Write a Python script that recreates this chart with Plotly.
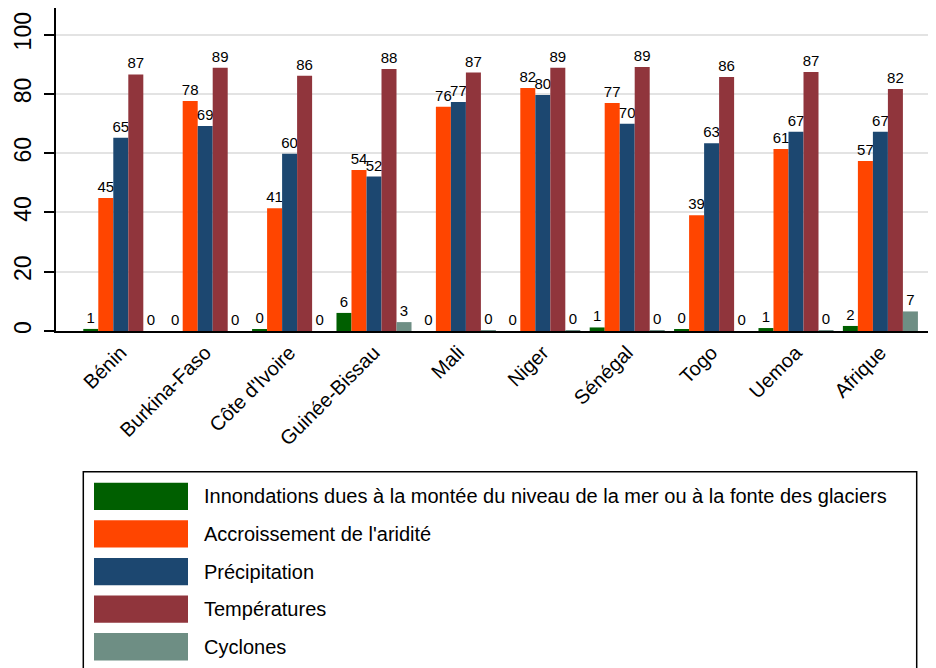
import plotly.graph_objects as go

countries = ["Bénin", "Burkina-Faso", "Côte d'Ivoire", "Guinée-Bissau", "Mali",
             "Niger", "Sénégal", "Togo", "Uemoa", "Afrique"]

inondations = [0.7, 0.0, 0.4, 6.1, 0.0, 0.0, 1.2, 0.4, 1.0, 1.7]
aridite = [44.9, 77.6, 41.4, 54.3, 75.7, 82.0, 76.9, 39.1, 61.4, 57.4]
precipitation = [65.2, 69.2, 59.8, 52.1, 77.3, 79.6, 69.9, 63.4, 67.2, 67.2]
temperatures = [86.6, 88.8, 86.1, 88.4, 87.2, 88.8, 89.1, 85.7, 87.4, 81.7]
cyclones = [0.0, 0.0, 0.0, 3.0, 0.3, 0.1, 0.3, 0.0, 0.2, 6.6]

series_names = [
    "Innondations dues à la montée du niveau de la mer ou à la fonte des glaciers",
    "Accroissement de l'aridité",
    "Précipitation",
    "Températures",
    "Cyclones",
]
series_values = [inondations, aridite, precipitation, temperatures, cyclones]
series_colors = ["#005F00", "#FF4500", "#1C4770", "#90353C", "#6E8E84"]

FONT = "Liberation Sans, Arial, sans-serif"
W, H = 936, 668
OFF = 8  # page body margin offset
# plot area in visible page pixels
VL, VR, VT, VB = 56, 944, 8, 331
L, R, T, B = VL - OFF, VR - OFF, VT - OFF, VB - OFF


def px(x):
    return (x - VL) / (VR - VL)


def py(y):
    return (VB - y) / (VB - VT)


fig = go.Figure()
for name, vals, col in zip(series_names, series_values, series_colors):
    fig.add_trace(go.Bar(
        x=countries, y=vals, name=name,
        marker=dict(color=col, line=dict(width=0)),
        texttemplate="%{y:.0f}", textposition="outside",
        textfont=dict(family=FONT, size=15, color="black"),
        constraintext="none", cliponaxis=False, showlegend=False,
    ))

shapes = []
annotations = []
shapes.append(dict(type="rect", xref="paper", yref="paper",
                   x0=px(83.3), x1=px(916.7), y0=py(471.7), y1=py(720),
                   line=dict(color="black", width=1.5), fillcolor="white", layer="above"))
for i, (name, col) in enumerate(zip(series_names, series_colors)):
    top = 482.7 + i * 37.6
    shapes.append(dict(type="rect", xref="paper", yref="paper",
                       x0=px(94), x1=px(188), y0=py(top), y1=py(top + 27.3),
                       line=dict(width=0), fillcolor=col, layer="above"))
    annotations.append(dict(xref="paper", yref="paper", x=px(202), y=py(top + 13.7),
                            text=name, showarrow=False, xanchor="left", yanchor="middle",
                            font=dict(family=FONT, size=20, color="black")))

# category spacing ~84.4 px, first category centre at x=120.8
spacing = 84.4
x0 = -(120.8 - VL) / spacing
x1 = x0 + (VR - VL) / spacing

fig.update_layout(
    width=W, height=H,
    margin=dict(l=L, r=W - R, t=T, b=H - B, autoexpand=False),
    paper_bgcolor="white", plot_bgcolor="white",
    barmode="group", bargap=0.111, bargroupgap=0,
    font=dict(family=FONT, color="black"),
    shapes=shapes, annotations=annotations,
    xaxis=dict(range=[x0, x1], showline=True, mirror=True, linecolor="black",
               linewidth=2, ticks="", tickangle=-45,
               tickfont=dict(family=FONT, size=20, color="black"), showgrid=False,
               automargin=False),
    yaxis=dict(range=[0, 109], tickvals=[0, 20, 40, 60, 80, 100], showline=True,
               linecolor="black", linewidth=2, ticks="outside", ticklen=10,
               tickwidth=1.5, tickcolor="black", tickangle=-90,
               tickfont=dict(family=FONT, size=23, color="black"),
               showgrid=True, gridcolor="#E3E3E3", gridwidth=1.5, zeroline=False,
               ticklabelstandoff=4, automargin=False),
)

fig.write_html("out.html")
